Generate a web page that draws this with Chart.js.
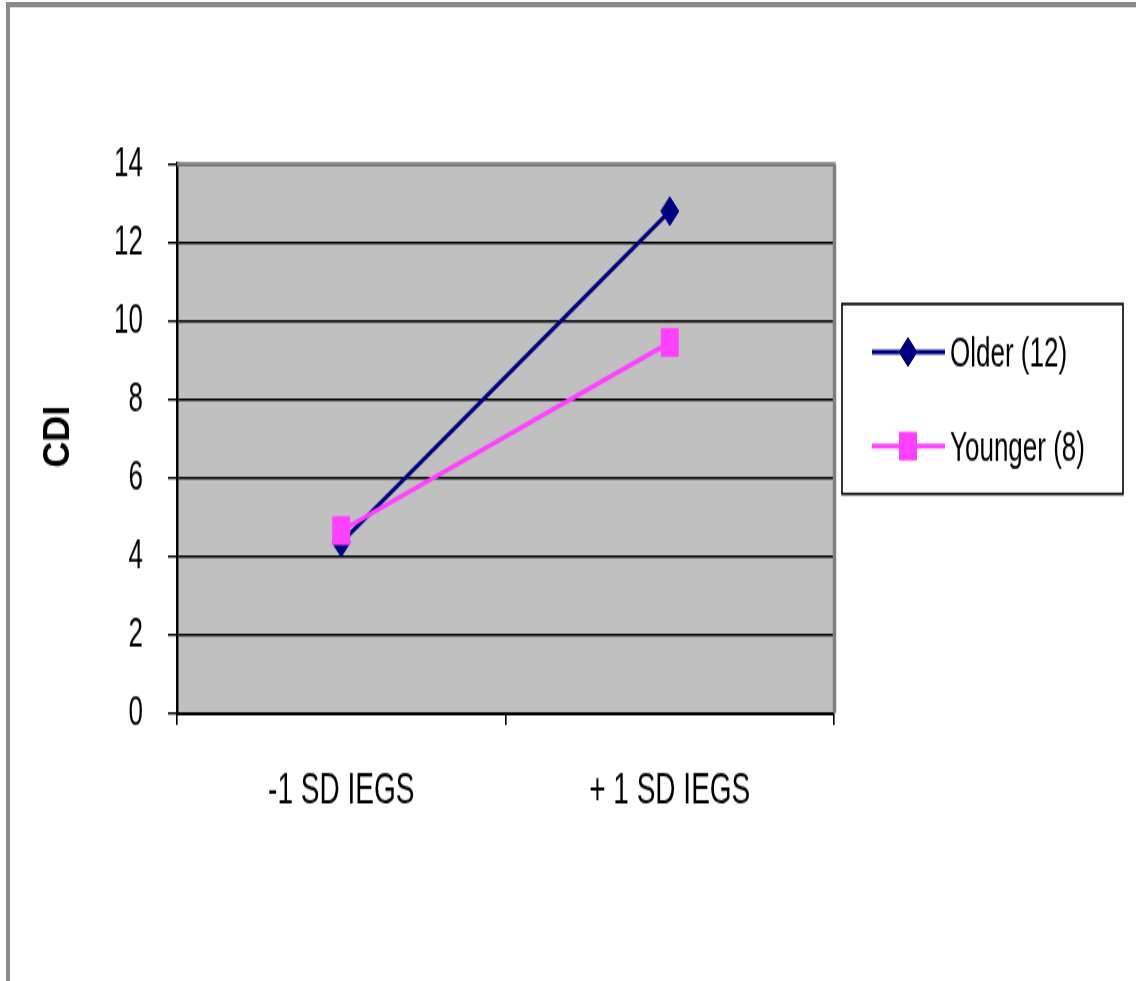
<!DOCTYPE html>
<html>
<head>
<meta charset="utf-8">
<title>CDI by IEGS level</title>
<script src="https://cdn.jsdelivr.net/npm/chart.js@4/dist/chart.umd.min.js"></script>
<style>
  html, body { margin: 0; padding: 0; background: #ffffff; }
  body { width: 1136px; height: 981px; position: relative; overflow: hidden; }
  #frame {
    position: absolute; left: 6px; top: 2px; width: 1130px; height: 979px;
    box-sizing: border-box;
    border-left: 4px solid #8a8a8a; border-top: 5px solid #8a8a8a;
    box-shadow: inset 0 1px 0 #d8d8d8;
  }
  /* the chart is laid out at a shorter height and stretched vertically */
  #wrap {
    position: absolute; left: 0; top: 0; width: 1136px; height: 613px;
    transform-origin: 0 0; transform: scaleY(1.6003);
  }
</style>
</head>
<body>
<div id="frame"></div>
<div id="wrap"><canvas id="chart"></canvas></div>
<script>
// Values
const categories = ['-1 SD IEGS', '+ 1 SD IEGS'];
const seriesNames = ['Older (12)', 'Younger (8)'];
const olderValues = [4.35, 12.8];
const youngerValues = [4.65, 9.45];
const yMin = 0;
const yMax = 14;
const yStep = 2;
const yAxisTitle = 'CDI';

const STRETCH = 981 / 613;
const FONT = '"Liberation Sans", Arial, sans-serif';
const olderColor = '#000080';
const youngerColor = '#ff40ff';

// grey plot background plus the grey top/right edges of the plot frame
const plotFrame = {
  id: 'plotFrame',
  beforeDraw(chart) {
    const { ctx, chartArea: a } = chart;
    ctx.save();
    ctx.fillStyle = '#c0c0c0';
    ctx.fillRect(a.left, a.top, a.right - a.left, a.bottom - a.top);
    ctx.restore();
  },
  beforeDatasetsDraw(chart) {
    const { ctx, chartArea: a } = chart;
    ctx.save();
    ctx.strokeStyle = '#808080';
    ctx.lineWidth = 2.5;
    ctx.beginPath();
    ctx.moveTo(a.left, a.top);
    ctx.lineTo(a.right + 1.5, a.top);
    ctx.stroke();
    ctx.lineWidth = 3.5;
    ctx.beginPath();
    ctx.moveTo(a.right + 0.5, a.top);
    ctx.lineTo(a.right + 0.5, a.bottom);
    ctx.stroke();
    ctx.restore();
  }
};

// vertical axis title, kept at its natural proportions
const axisTitle = {
  id: 'axisTitle',
  afterDraw(chart) {
    const { ctx } = chart;
    ctx.save();
    ctx.translate(59.5, 436.5 / STRETCH);
    ctx.scale(1, 1 / STRETCH);
    ctx.rotate(-Math.PI / 2);
    ctx.font = 'bold 36px ' + FONT;
    ctx.fillStyle = '#000000';
    ctx.textAlign = 'center';
    ctx.textBaseline = 'middle';
    ctx.fillText(yAxisTitle, 0, 0);
    ctx.restore();
  }
};

// boxed legend to the right of the plot
const boxLegend = {
  id: 'boxLegend',
  afterDraw(chart) {
    const { ctx } = chart;
    const box = { x: 842, y: 304 / STRETCH, w: 281, h: 190 / STRETCH };
    const rows = [352 / STRETCH, 446 / STRETCH];
    ctx.save();
    ctx.fillStyle = '#ffffff';
    ctx.fillRect(box.x, box.y, box.w, box.h);
    ctx.strokeStyle = '#000000';
    ctx.lineWidth = 1.6;
    ctx.strokeRect(box.x, box.y, box.w, box.h);
    chart.data.datasets.forEach((ds, i) => {
      const y = rows[i];
      ctx.strokeStyle = ds.borderColor;
      ctx.lineWidth = ds.borderWidth;
      ctx.beginPath();
      ctx.moveTo(872, y);
      ctx.lineTo(945, y);
      ctx.stroke();
      ctx.fillStyle = ds.pointBackgroundColor;
      ctx.strokeStyle = ds.pointBorderColor;
      ctx.lineWidth = 1;
      Chart.helpers.drawPoint(ctx, {
        pointStyle: ds.pointStyle,
        radius: ds.pointRadius,
        rotation: 0,
        borderWidth: 1
      }, 908, y);
      ctx.fillStyle = '#000000';
      ctx.font = '26px ' + FONT;
      ctx.textAlign = 'left';
      ctx.textBaseline = 'middle';
      ctx.fillText(ds.label, 950, y + 2);
    });
    ctx.restore();
  }
};

new Chart(document.getElementById('chart'), {
  type: 'line',
  data: {
    labels: categories,
    datasets: [
      {
        label: seriesNames[0],
        data: olderValues,
        borderColor: olderColor,
        backgroundColor: olderColor,
        pointBackgroundColor: olderColor,
        pointBorderColor: olderColor,
        pointStyle: 'rectRot',
        pointRadius: 9,
        pointBorderWidth: 1,
        borderWidth: 3,
        tension: 0,
        order: 2
      },
      {
        label: seriesNames[1],
        data: youngerValues,
        borderColor: youngerColor,
        backgroundColor: youngerColor,
        pointBackgroundColor: youngerColor,
        pointBorderColor: youngerColor,
        pointStyle: 'rect',
        pointRadius: 12,
        pointBorderWidth: 1,
        borderWidth: 3,
        tension: 0,
        order: 1
      }
    ]
  },
  options: {
    responsive: true,
    maintainAspectRatio: false,
    animation: false,
    devicePixelRatio: 1,
    layout: { padding: { left: 0, right: 302, top: 102.5, bottom: 107.5 } },
    plugins: {
      legend: { display: false },
      tooltip: { enabled: false },
      title: { display: false }
    },
    scales: {
      x: {
        offset: true,
        grid: {
          offset: true,
          drawOnChartArea: false,
          drawTicks: true,
          tickLength: 7.5,
          color: '#000000',
          lineWidth: 1.6
        },
        border: { display: true, color: '#000000', width: 2 },
        ticks: {
          color: '#000000',
          padding: 24.5,
          maxRotation: 0,
          font: { family: FONT, size: 28 }
        },
        afterFit(scale) { scale.height = 60; }
      },
      y: {
        min: yMin,
        max: yMax,
        grid: {
          color: '#000000',
          lineWidth: 1.4,
          drawTicks: true,
          tickLength: 9
        },
        border: { display: true, color: '#000000', width: 2.5 },
        ticks: {
          stepSize: yStep,
          color: '#000000',
          padding: 25,
          font: { family: FONT, size: 26 }
        },
        afterFit(scale) { scale.width = 177; }
      }
    }
  },
  plugins: [plotFrame, axisTitle, boxLegend]
});
</script>
</body>
</html>
